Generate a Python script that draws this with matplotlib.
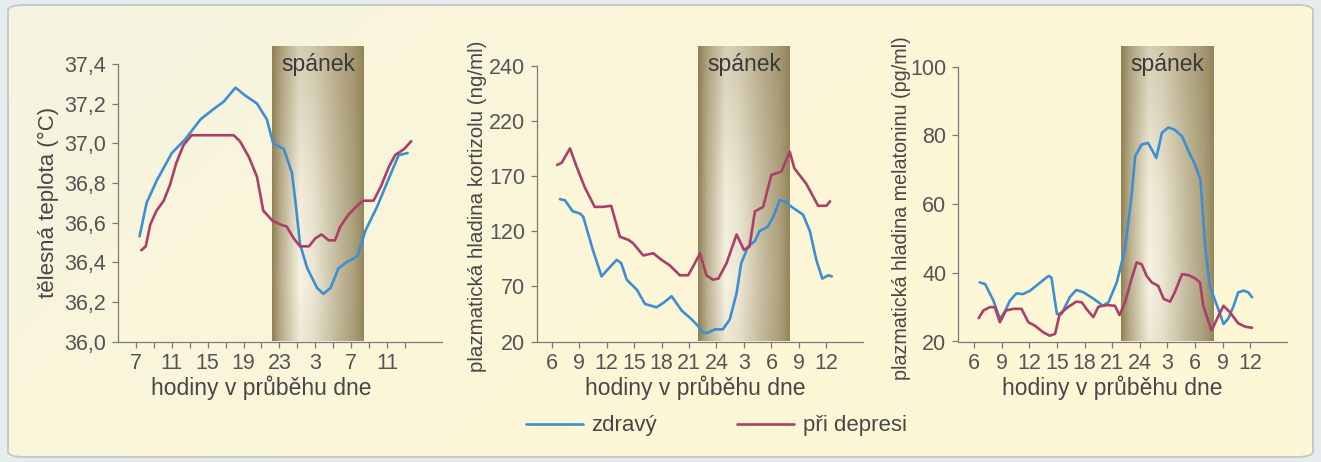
import numpy as np
import matplotlib
matplotlib.use("Agg")
import matplotlib.pyplot as plt
from matplotlib.patches import FancyBboxPatch

plt.rcParams['font.family'] = ['Liberation Sans', 'DejaVu Sans']

# ---------------------------------------------------------
# data (hours run on past midnight: 25 = 1 h, 27 = 3 h ...)
# ---------------------------------------------------------
temp_zdravy_t = [7.4, 8.2, 9.3, 11.0, 12.5, 14.2, 15.6, 16.8, 18.1, 19.2, 20.5, 21.6,
                 22.3, 23.5, 24.4, 24.8, 25.3, 26.1, 27.2, 27.9, 28.7, 29.6, 30.5, 31.7,
                 32.6, 33.9, 35.0, 36.3, 37.3]
temp_zdravy = [36.53, 36.70, 36.81, 36.95, 37.02, 37.12, 37.17, 37.21, 37.28, 37.24, 37.20, 37.12,
               37.00, 36.97, 36.85, 36.70, 36.49, 36.37, 36.27, 36.24, 36.27, 36.37, 36.40, 36.43,
               36.56, 36.68, 36.80, 36.94, 36.95]
temp_depr_t = [7.6, 8.1, 8.6, 9.3, 10.1, 10.8, 11.5, 12.3, 13.2, 14.0, 14.9, 17.9, 18.6,
               19.6, 20.5, 21.2, 22.2, 23.1, 23.8, 24.6, 25.3, 26.3, 27.0, 27.7, 28.5,
               29.2, 29.8, 30.7, 31.8, 32.4, 33.5, 34.3, 35.2, 35.9, 36.9, 37.7]
temp_depr = [36.46, 36.48, 36.59, 36.66, 36.71, 36.79, 36.90, 36.99, 37.04, 37.04, 37.04, 37.04, 37.01,
             36.93, 36.83, 36.66, 36.61, 36.59, 36.58, 36.52, 36.48, 36.48, 36.52, 36.54, 36.51,
             36.51, 36.58, 36.64, 36.69, 36.71, 36.71, 36.78, 36.88, 36.94, 36.97, 37.01]

kort_zdravy_t = [6.9, 7.45, 8.3, 9.1, 9.45, 10.5, 11.45, 12.2, 13.1, 13.6, 14.2, 15.3, 16.2,
                 17.45, 18.2, 19.1, 20.2, 21.3, 22.0, 22.5, 23.1, 23.8, 24.7, 25.45, 26.2,
                 26.7, 27.45, 28.2, 28.7, 29.6, 30.2, 30.9, 31.45, 32.2, 33.45, 34.2, 34.9,
                 35.55, 36.2, 36.6]
kort_zdravy = [149, 148, 138, 136, 133, 103, 79, 86, 94, 91, 76, 67, 54,
               51, 55, 61, 48, 40, 34, 28, 28, 31, 31, 40, 64,
               91, 106, 111, 120, 124, 133, 148, 147, 142, 135, 120, 94,
               77, 80, 79]
kort_depr_t = [6.6, 7.1, 8.0, 8.7, 9.6, 10.7, 11.6, 12.5, 13.45, 14.4, 14.9, 16.0, 17.1,
               18.0, 18.9, 20.0, 20.9, 21.45, 22.2, 22.9, 23.6, 24.2, 25.1, 26.2, 27.0,
               27.6, 28.2, 29.1, 30.0, 31.1, 32.0, 32.5, 33.8, 35.1, 36.0, 36.4]
kort_depr = [180, 182, 195, 179, 160, 142, 142, 143, 115, 112, 109, 98, 100,
             94, 89, 80, 80, 88, 100, 80, 76, 77, 91, 117, 103,
             106, 138, 142, 171, 174, 192, 177, 163, 143, 143, 147]

mel_zdravy_t = [6.6, 7.2, 8.1, 8.8, 9.3, 9.9, 10.6, 11.3, 12.1, 13.2, 14.1, 14.4, 15.0,
                15.5, 16.4, 17.1, 17.9, 19.0, 20.0, 20.6, 21.5, 22.4, 23.1, 23.5, 24.2,
                24.9, 25.5, 25.8, 26.4, 27.1, 27.8, 28.6, 29.3, 30.0, 30.6, 31.1, 31.6,
                32.4, 33.1, 33.6, 34.2, 34.7, 35.3, 35.8, 36.2]
mel_zdravy = [37.2, 36.7, 31.9, 26.6, 28.5, 31.9, 34.0, 33.8, 34.8, 37.2, 39.1, 38.6, 28.0,
              28.0, 32.9, 35.0, 34.3, 32.4, 30.4, 31.4, 37.2, 46.9, 62.3, 73.9, 77.3,
              77.8, 74.9, 73.4, 80.7, 82.3, 81.6, 79.7, 75.4, 71.5, 67.1, 47.8, 36.2,
              30.4, 25.1, 26.6, 30.4, 34.3, 34.8, 34.3, 32.9]
mel_depr_t = [6.5, 7.0, 7.7, 8.25, 8.8, 9.45, 10.25, 11.15, 11.9, 12.6, 13.5, 14.2, 14.8,
              15.3, 16.2, 17.1, 17.7, 18.2, 18.95, 19.5, 20.4, 21.3, 21.8, 22.4, 23.1,
              23.66, 24.2, 24.75, 25.3, 26.0, 26.6, 27.3, 27.8, 28.6, 29.3, 30.0, 30.55,
              30.9, 31.5, 31.8, 32.4, 33.1, 33.8, 34.7, 35.45, 36.2]
mel_depr = [26.8, 29.0, 30.0, 30.0, 25.6, 29.0, 29.5, 29.5, 25.6, 24.6, 22.7, 21.7, 22.2,
            28.0, 30.0, 31.6, 31.4, 29.5, 27.1, 30.1, 30.6, 30.4, 27.7, 31.4, 38.2,
            43.0, 42.5, 39.1, 37.2, 36.2, 32.4, 31.6, 34.3, 39.6, 39.3, 38.4, 37.2,
            30.4, 25.6, 23.2, 26.6, 30.4, 28.5, 25.3, 24.3, 24.0]

temp_ticks = [7, 11, 15, 19, 23, 27, 31, 35]
temp_ticklabels = ['7', '11', '15', '19', '23', '3', '7', '11']
temp_minor = [9, 13, 17, 21, 25, 29, 33, 37]
temp_yticks = [36.0, 36.2, 36.4, 36.6, 36.8, 37.0, 37.2, 37.4]
temp_yticklabels = ['36,0', '36,2', '36,4', '36,6', '36,8', '37,0', '37,2', '37,4']

hour_ticks = [6, 9, 12, 15, 18, 21, 24, 27, 30, 33, 36]
hour_ticklabels = ['6', '9', '12', '15', '18', '21', '24', '3', '6', '9', '12']
kort_yticks = [20, 70, 120, 170, 220, 270]
kort_yticklabels = ['20', '70', '120', '170', '220', '240']
mel_yticks = [20, 40, 60, 80, 100]

spanek_temp = (22.2, 32.4)
spanek = (22.0, 32.0)

# ---------------------------------------------------------
BLUE = '#3d8fd1'
RED = '#aa3f68'
TXT = '#474747'
AXC = '#7a7a7a'

W, H = 1321, 462
fig = plt.figure(figsize=(W / 100, H / 100), dpi=100)
fig.patch.set_facecolor('#e6ecee')

# background card with soft gradient
bg = fig.add_axes([0, 0, 1, 1], zorder=-10)
yy, xx = np.mgrid[0:1:200j, 0:1:400j]
f = np.clip(0.25 + 0.9 * xx + 0.35 * yy, 0, 1) ** 0.5
c0 = np.array([236, 240, 237]) / 255
c1 = np.array([253, 247, 214]) / 255
grad = c0 + (c1 - c0) * f[..., None]
bg.imshow(grad, extent=[8 / W, 1313 / W, 5 / H, 457 / H], aspect='auto', origin='upper')
bg.add_patch(FancyBboxPatch((8 / W, 5 / H), 1305 / W, 452 / H,
                            boxstyle='round,pad=0,rounding_size=0.012',
                            fc='none', ec='#c6c8c6', lw=1.4, transform=bg.transAxes))
bg.set_xlim(0, 1)
bg.set_ylim(0, 1)
bg.axis('off')


def band_image():
    yv, xv = np.mgrid[0:1:120j, 0:1:120j]
    h = np.interp(xv, [0, 0.1, 0.3, 0.45, 0.7, 0.9, 1.0],
                  [0.05, 0.45, 1.0, 0.9, 0.55, 0.3, 0.08])
    v = np.interp(yv, [0, 0.5, 0.8, 1.0], [0.7, 0.95, 1.0, 0.92])
    lt = h * v
    e = np.array([140, 124, 80]) / 255
    hi = np.array([247, 243, 226]) / 255
    return e + (hi - e) * lt[..., None]


BAND = band_image()

bottom = (H - 341.5) / H
height = 295.5 / H
panels = [
    dict(left=118, right=441.7, xlim=(5.0, 41.1), ylim=(36.0, 37.49),
         ytop=37.4, band=spanek_temp,
         series=[(temp_zdravy_t, temp_zdravy, BLUE), (temp_depr_t, temp_depr, RED)],
         xticks=temp_ticks, xticklabels=temp_ticklabels, minor=temp_minor,
         yticks=temp_yticks, yticklabels=temp_yticklabels,
         ylabel='tělesná teplota (°C)', ylab_fs=16, ylab_pos=(-0.216, 0.472), xlab_x=0.442),
    dict(left=537, right=863, xlim=(4.4, 40.0), ylim=(20, 287.8),
         ytop=270, band=spanek,
         series=[(kort_zdravy_t, kort_zdravy, BLUE), (kort_depr_t, kort_depr, RED)],
         xticks=hour_ticks, xticklabels=hour_ticklabels, minor=None,
         yticks=kort_yticks, yticklabels=kort_yticklabels,
         ylabel='plazmatická hladina kortizolu (ng/ml)', ylab_fs=14.8,
         ylab_pos=(-0.184, 0.459), xlab_x=0.485),
    dict(left=958, right=1287, xlim=(4.25, 40.0), ylim=(20, 106),
         ytop=100, band=spanek,
         series=[(mel_zdravy_t, mel_zdravy, BLUE), (mel_depr_t, mel_depr, RED)],
         xticks=hour_ticks, xticklabels=hour_ticklabels, minor=None,
         yticks=mel_yticks, yticklabels=[str(v) for v in mel_yticks],
         ylabel='plazmatická hladina melatoninu (pg/ml)', ylab_fs=14.2,
         ylab_pos=(-0.172, 0.45), xlab_x=0.468),
]

lines = []
for p in panels:
    ax = fig.add_axes([p['left'] / W, bottom, (p['right'] - p['left']) / W, height])
    ax.set_facecolor('none')
    b0, b1 = p['band']
    ax.imshow(BAND, extent=[b0, b1, p['ylim'][0], p['ylim'][1]], aspect='auto',
              interpolation='bilinear', zorder=1)
    ax.text((b0 + b1) / 2, 0.939, 'spánek', transform=ax.get_xaxis_transform(),
            ha='center', va='center', fontsize=16.5, color='#3a3a3a', zorder=3)
    for t, v, c in p['series']:
        ln, = ax.plot(t, v, color=c, lw=1.9, solid_joinstyle='round',
                      solid_capstyle='round', zorder=4)
        lines.append(ln)
    ax.set_xlim(*p['xlim'])
    ax.set_ylim(*p['ylim'])
    for s in ('top', 'right'):
        ax.spines[s].set_visible(False)
    for s in ('left', 'bottom'):
        ax.spines[s].set_color(AXC)
        ax.spines[s].set_linewidth(0.9)
    ax.spines['left'].set_bounds(p['ylim'][0], p['ytop'])
    ax.set_xticks(p['xticks'])
    ax.set_xticklabels(p['xticklabels'])
    if p['minor']:
        ax.set_xticks(p['minor'], minor=True)
    ax.set_yticks(p['yticks'])
    ax.set_yticklabels(p['yticklabels'])
    ax.tick_params(axis='both', which='both', direction='out', length=4.5, width=0.9,
                   color=AXC, labelsize=15.5, labelcolor='#555555', pad=4)
    ax.set_xlabel('hodiny v průběhu dne', fontsize=16.5, color=TXT)
    ax.xaxis.set_label_coords(p['xlab_x'], -0.156)
    ax.xaxis.label.set_va('center')
    ax.set_ylabel(p['ylabel'], fontsize=p['ylab_fs'], color=TXT)
    ax.yaxis.set_label_coords(*p['ylab_pos'])
    ax.yaxis.label.set_va('center')

fig.legend([lines[0], lines[1]], ['zdravý', 'při depresi'], loc='center left',
           bbox_to_anchor=(526 / W, 1 - 426 / H), ncol=2, frameon=False,
           fontsize=16, handlelength=2.55, handletextpad=0.4, columnspacing=3.6,
           borderpad=0, borderaxespad=0, labelcolor=TXT)

fig.savefig('out.png', dpi=100, facecolor=fig.get_facecolor())
